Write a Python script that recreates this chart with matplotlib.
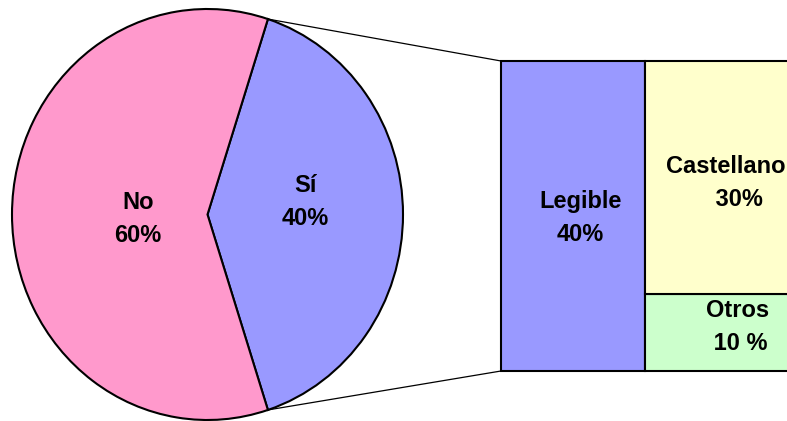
import matplotlib.pyplot as plt
from matplotlib.patches import ConnectionPatch
import numpy as np

plt.rcParams['font.family'] = ['Liberation Sans', 'DejaVu Sans']

# pie data
pie_labels = ['Sí', 'No']
pie_values = [40, 60]
pie_colors = ['#9999FF', '#FF99CC']

# breakdown of "Sí"
bar_labels = ['Otros', 'Castellano']
bar_values = [10, 30]
bar_colors = ['#CCFFCC', '#FFFFCC']
bar_texts = ['Otros\n 10 %', 'Castellano\n    30%']
total_label = 'Legible\n40%'

W, H = 787, 421
fig = plt.figure(figsize=(W / 100, H / 100), dpi=100)

def px_axes(x0, y0, x1, y1):
    # axes placed with pixel coords measured from the top-left corner
    return fig.add_axes([x0 / W, 1 - y1 / H, (x1 - x0) / W, (y1 - y0) / H])

# pie (stretched to the elliptical shape of the original)
ax_pie = px_axes(12, 9, 403, 420)
start = -pie_values[0] / 100 * 360 / 2
wedges, _ = ax_pie.pie(pie_values, colors=pie_colors, startangle=start,
                       wedgeprops=dict(edgecolor='black', linewidth=1.5))
ax_pie.set_aspect('auto')
ax_pie.set_xlim(-1, 1)
ax_pie.set_ylim(-1, 1)
ax_pie.axis('off')
for w in wedges:
    w.set_clip_on(False)

txt = dict(ha='center', va='center', fontsize=17, fontweight='bold', linespacing=1.55)
ax_pie.text(0.5, 0.06, 'Sí\n40%', **txt)
ax_pie.text(-0.355, -0.02, 'No\n60%', **txt)

# bar of pie
ax_bar = px_axes(501, 61, 789, 371)
ax_bar.bar([0], [sum(bar_values)], width=1, align='edge', color=pie_colors[0],
           edgecolor='black', linewidth=1.5)
bottom = 0
for v, c in zip(bar_values, bar_colors):
    ax_bar.bar([1], [v], bottom=bottom, width=1, align='edge', color=c,
               edgecolor='black', linewidth=1.5)
    bottom += v
ax_bar.set_xlim(0, 2)
ax_bar.set_ylim(0, sum(bar_values))
ax_bar.axis('off')
for p in ax_bar.patches:
    p.set_clip_on(False)

ax_bar.text(0.55, 19.7, total_label, **txt)
ax_bar.text(1.56, 24.3, bar_texts[1], **txt)
ax_bar.text(1.64, 5.7, bar_texts[0], **txt)

# connector lines from the "Sí" slice to the bar
for ang, yb in [(-start, sum(bar_values)), (start, 0)]:
    r = np.deg2rad(ang)
    con = ConnectionPatch(xyA=(np.cos(r), np.sin(r)), coordsA=ax_pie.transData,
                          xyB=(0, yb), coordsB=ax_bar.transData,
                          color='black', linewidth=0.9)
    fig.add_artist(con)

fig.savefig('out.png', dpi=100)
